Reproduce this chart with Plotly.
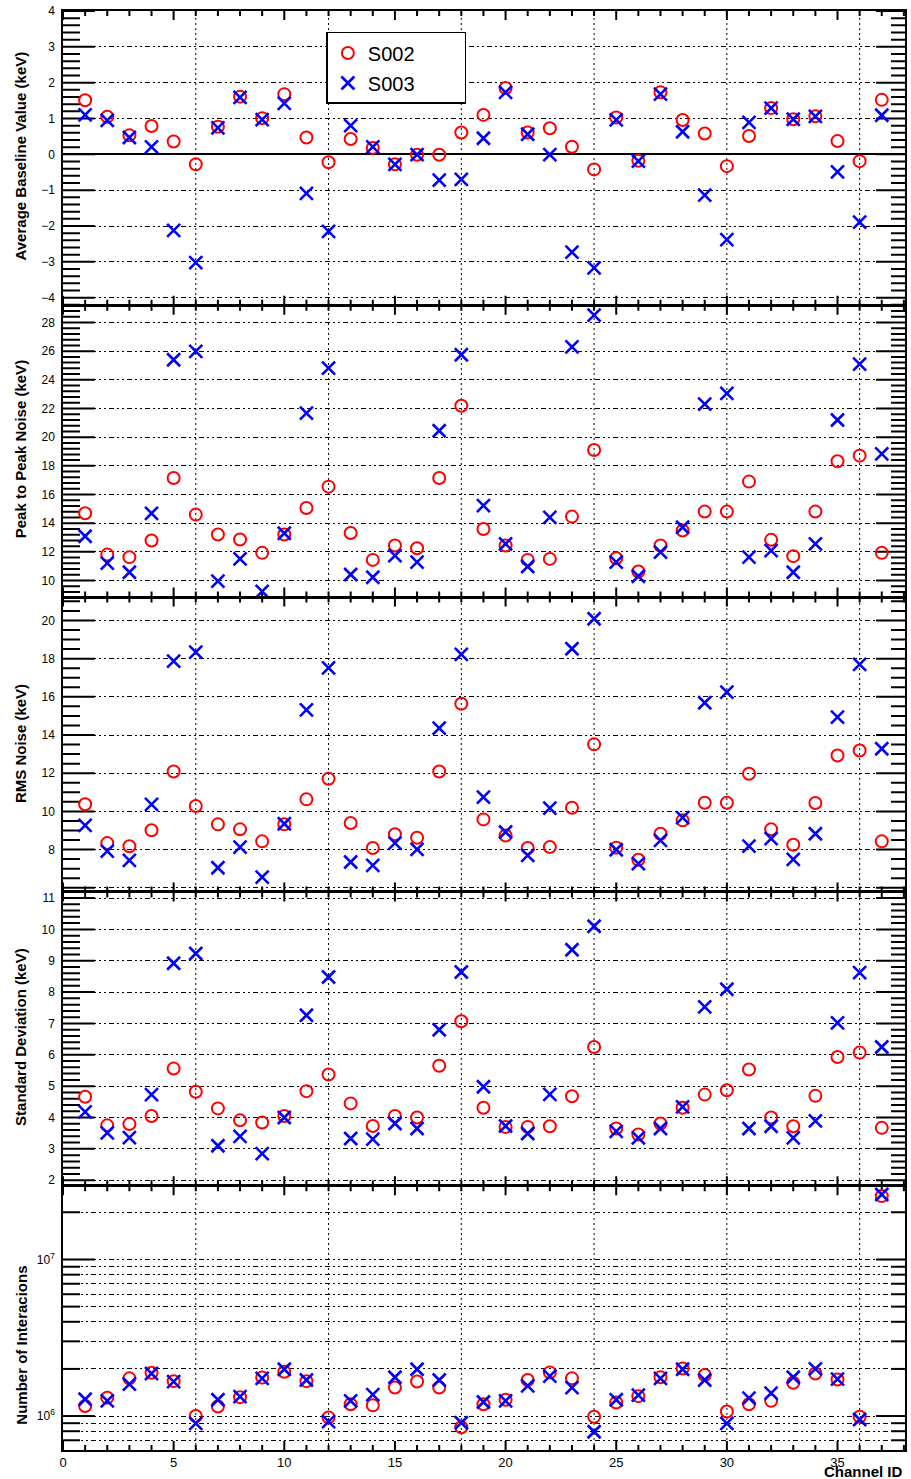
import numpy as np
import plotly.graph_objects as go

# ---------------- data ----------------
channels = list(range(1, 38))

baseline_s002 = [1.51, 1.05, 0.53, 0.79, 0.36, -0.28, 0.77, 1.61, 1.01, 1.68,
                 0.47, -0.22, 0.43, 0.18, -0.28, -0.01, -0.01, 0.61, 1.10, 1.85,
                 0.61, 0.73, 0.21, -0.42, 1.03, -0.18, 1.73, 0.96, 0.58, -0.33,
                 0.51, 1.29, 0.98, 1.06, 0.37, -0.19, 1.52]
baseline_s003 = [1.10, 0.95, 0.47, 0.21, -2.12, -3.02, 0.74, 1.59, 0.97, 1.42,
                 -1.09, -2.15, 0.80, 0.21, -0.28, -0.01, -0.72, -0.70, 0.45, 1.73,
                 0.56, -0.01, -2.73, -3.17, 0.96, -0.19, 1.68, 0.63, -1.14, -2.38,
                 0.89, 1.29, 0.98, 1.06, -0.49, -1.89, 1.09]

p2p_s002 = [14.69, 11.81, 11.63, 12.79, 17.15, 14.60, 13.21, 12.86, 11.93, 13.21,
            15.06, 16.55, 13.32, 11.44, 12.44, 12.25, 17.15, 22.19, 13.60, 12.44,
            11.44, 11.51, 14.46, 19.11, 11.56, 10.63, 12.44, 13.49, 14.81, 14.81,
            16.90, 12.84, 11.70, 14.81, 18.32, 18.71, 11.93]
p2p_s003 = [13.09, 11.21, 10.58, 14.69, 25.40, 25.98, 9.96, 11.51, 9.24, 13.30,
            21.68, 24.82, 10.42, 10.23, 11.74, 11.28, 20.45, 25.75, 15.23, 12.56,
            10.98, 14.41, 26.30, 28.51, 11.28, 10.30, 11.98, 13.72, 22.31, 23.05,
            11.63, 12.09, 10.58, 12.56, 21.20, 25.10, 18.83]

rms_s002 = [10.37, 8.34, 8.17, 9.01, 12.09, 10.28, 9.32, 9.06, 8.43, 9.32,
            10.63, 11.71, 9.39, 8.08, 8.80, 8.62, 12.09, 15.64, 9.58, 8.74,
            8.08, 8.13, 10.19, 13.51, 8.10, 7.47, 8.83, 9.53, 10.45, 10.45,
            11.97, 9.06, 8.25, 10.44, 12.93, 13.19, 8.43]
rms_s003 = [9.27, 7.92, 7.43, 10.37, 17.87, 18.34, 7.05, 8.13, 6.56, 9.35,
            15.32, 17.52, 7.35, 7.17, 8.34, 8.01, 14.36, 18.22, 10.75, 8.92,
            7.70, 10.17, 18.52, 20.09, 7.99, 7.26, 8.48, 9.67, 15.69, 16.25,
            8.18, 8.57, 7.49, 8.83, 14.94, 17.70, 13.28]

std_s002 = [4.66, 3.75, 3.79, 4.05, 5.56, 4.82, 4.29, 3.91, 3.84, 4.05,
            4.84, 5.37, 4.45, 3.73, 4.05, 4.00, 5.65, 7.07, 4.31, 3.70,
            3.70, 3.72, 4.68, 6.25, 3.65, 3.46, 3.81, 4.31, 4.73, 4.87,
            5.53, 4.00, 3.72, 4.69, 5.93, 6.07, 3.67]
std_s003 = [4.18, 3.51, 3.36, 4.73, 8.92, 9.23, 3.10, 3.40, 2.85, 4.00,
            7.26, 8.48, 3.33, 3.31, 3.81, 3.65, 6.80, 8.64, 4.98, 3.73,
            3.49, 4.74, 9.35, 10.10, 3.56, 3.35, 3.65, 4.34, 7.53, 8.09,
            3.65, 3.72, 3.35, 3.89, 7.02, 8.62, 6.25]

inter_s002 = [1.16e6, 1.31e6, 1.74e6, 1.89e6, 1.67e6, 1.00e6, 1.15e6, 1.32e6, 1.76e6, 1.92e6,
              1.67e6, 0.98e6, 1.19e6, 1.17e6, 1.52e6, 1.66e6, 1.52e6, 0.847e6, 1.19e6, 1.27e6,
              1.70e6, 1.90e6, 1.74e6, 0.99e6, 1.22e6, 1.34e6, 1.77e6, 2.01e6, 1.83e6, 1.07e6,
              1.19e6, 1.25e6, 1.63e6, 1.87e6, 1.71e6, 0.99e6, 2.54e7]
inter_s003 = [1.28e6, 1.25e6, 1.60e6, 1.87e6, 1.66e6, 0.898e6, 1.27e6, 1.33e6, 1.74e6, 1.99e6,
              1.70e6, 0.92e6, 1.25e6, 1.37e6, 1.77e6, 1.99e6, 1.70e6, 0.906e6, 1.23e6, 1.25e6,
              1.56e6, 1.80e6, 1.52e6, 0.794e6, 1.27e6, 1.36e6, 1.74e6, 1.99e6, 1.70e6, 0.898e6,
              1.30e6, 1.40e6, 1.77e6, 2.00e6, 1.72e6, 0.95e6, 2.60e7]

series_names = ["S002", "S003"]
y_titles = ["Average Baseline Value (keV)", "Peak to Peak Noise (keV)",
            "RMS Noise (keV)", "Standard Deviation (keV)", "Number of Interacions"]
x_title = "Channel ID"

x_label_vals = [0, 5, 10, 15, 20, 25, 30, 35]
rms_tick_vals = [6, 8, 10, 12, 14, 16, 18, 20]
rms_tick_text = ["", "8", "10", "12", "14", "16", "18", "20"]
log_major_vals = [1e6, 1e7]
log_major_text = ["10<sup>6</sup>", "10<sup>7</sup>"]
log_minor_vals = [7e5, 8e5, 9e5, 2e6, 3e6, 4e6, 5e6, 6e6, 7e6, 8e6, 9e6, 2e7]
module_lines = [6, 12, 18, 24, 30, 36]

# ---------------- styling ----------------
RED = "#ff0000"
BLUE = "#0000ff"
FONT = "Liberation Sans"
GRID_DASH = "2px,3px,2px,3px,5px,3px"
X_RANGE = [0, 38.05]
PLOT_W = 911 - 63 - 4
PLOT_H = 1479 - 10 - 29

panels = [
    (baseline_s002, baseline_s003),
    (p2p_s002, p2p_s003),
    (rms_s002, rms_s003),
    (std_s002, std_s003),
    (inter_s002, inter_s003),
]

domains = [
    [0.7958, 1.0],
    [0.5931, 0.7951],
    [0.3882, 0.5924],
    [0.1840, 0.3875],
    [0.0, 0.1833],
]

y_ranges = [[-4.2, 4.0], [8.885, 29.16], [5.81, 21.2], [1.84, 11.18], [5.783, 7.468]]
major_steps = [1, 2, 2, 1, None]
minor_steps = [0.2, 0.4, 0.5, 0.2, None]


def positions(rng, step):
    k0 = int(np.ceil(rng[0] / step - 1e-9))
    k1 = int(np.floor(rng[1] / step + 1e-9))
    return [round(k * step, 6) for k in range(k0, k1 + 1)]


def tick_path(i):
    """ROOT-style inside tick marks for panel i, as a single line path in axis units."""
    n = i + 1
    is_log = (n == 5)
    lo, hi = y_ranges[i]
    d0, d1 = domains[i]
    yu = (hi - lo) / ((d1 - d0) * PLOT_H)
    xu = (X_RANGE[1] - X_RANGE[0]) / PLOT_W
    conv = (lambda t: 10 ** t) if is_log else (lambda t: t)
    if is_log:
        majors = [np.log10(v) for v in log_major_vals]
        minors = [np.log10(v) for v in log_minor_vals]
    else:
        majors = positions(y_ranges[i], major_steps[i])
        minors = [v for v in positions(y_ranges[i], minor_steps[i])
                  if not any(abs(v - m) < 1e-6 for m in majors)]
    xs, ys = [], []
    for vals, ln_l, ln_r in ((majors, 32, 29), (minors, 17, 14)):
        for v in vals:
            if v < lo - 1e-9 or v > hi + 1e-9:
                continue
            xs += [X_RANGE[0], X_RANGE[0] + ln_l * xu, None]
            ys += [conv(v), conv(v), None]
            xs += [X_RANGE[1] - ln_r * xu, X_RANGE[1], None]
            ys += [conv(v), conv(v), None]
    for xv in range(0, 39):
        ln = 9 if xv % 5 == 0 else 5
        xs += [xv, xv, None, xv, xv, None]
        ys += [conv(lo), conv(lo + ln * yu), None, conv(hi - ln * yu), conv(hi), None]
    return xs, ys


fig = go.Figure()

for i, (a, b) in enumerate(panels):
    n = i + 1
    xa = "x" if n == 1 else f"x{n}"
    ya = "y" if n == 1 else f"y{n}"
    tx, ty = tick_path(i)
    fig.add_trace(go.Scatter(
        x=tx, y=ty, mode="lines", line=dict(color="black", width=2),
        showlegend=False, hoverinfo="skip", xaxis=xa, yaxis=ya, connectgaps=False))
    fig.add_trace(go.Scatter(
        x=channels, y=a, mode="markers", name=series_names[0] + "\u00a0" * 8,
        legendgroup="s002", showlegend=(n == 1),
        marker=dict(symbol="circle-open", size=12, color=RED, line=dict(width=2, color=RED)),
        xaxis=xa, yaxis=ya, cliponaxis=False))
    fig.add_trace(go.Scatter(
        x=channels, y=b, mode="markers", name=series_names[1] + "\u00a0" * 8,
        legendgroup="s003", showlegend=(n == 1),
        marker=dict(symbol="x-thin-open", size=13, color=BLUE, line=dict(width=2.6, color=BLUE)),
        xaxis=xa, yaxis=ya, cliponaxis=False))

common_x = dict(
    range=X_RANGE, showline=True, linecolor="black", linewidth=1.5, mirror=True,
    ticks="", tickmode="array", tickvals=x_label_vals,
    showgrid=False, zeroline=False,
    tickfont=dict(family=FONT, size=13, color="black"),
)

common_y = dict(
    showline=True, linecolor="black", linewidth=1.5, mirror=True, ticks="",
    showgrid=True, gridcolor="black", gridwidth=1, griddash=GRID_DASH,
    tickfont=dict(family=FONT, size=12, color="black"),
    zeroline=False, ticklabelstandoff=4,
)

layout = dict(
    width=911, height=1479,
    margin=dict(l=63, r=4, t=10, b=29),
    paper_bgcolor="white", plot_bgcolor="white",
    showlegend=True,
    legend=dict(
        x=(327 - 63) / PLOT_W, y=(1450 - 31) / PLOT_H, xanchor="left", yanchor="top",
        bgcolor="white", bordercolor="black", borderwidth=1.5,
        font=dict(family=FONT, size=20, color="black"),
        tracegroupgap=1,
    ),
)

for i in range(5):
    n = i + 1
    xkey = "xaxis" if n == 1 else f"xaxis{n}"
    ykey = "yaxis" if n == 1 else f"yaxis{n}"
    main_y = "y" if n == 1 else f"y{n}"
    xname = "x" if n == 1 else f"x{n}"

    xa = dict(common_x)
    xa["anchor"] = main_y
    xa["domain"] = [0, 1]
    if n != 1:
        xa["matches"] = "x"
    xa["showticklabels"] = (n == 5)
    layout[xkey] = xa

    ya = dict(common_y)
    ya["anchor"] = xname
    ya["domain"] = domains[i]
    ya["range"] = y_ranges[i]
    if n == 1:
        ya.update(dtick=1, tick0=0, zeroline=True, zerolinecolor="black", zerolinewidth=1.5)
    elif n == 2:
        ya.update(dtick=2, tick0=0)
    elif n == 3:
        ya.update(tickmode="array", tickvals=rms_tick_vals, ticktext=rms_tick_text)
    elif n == 4:
        ya.update(dtick=1, tick0=0)
    else:
        ya.update(type="log", tickmode="array", tickvals=log_major_vals, ticktext=log_major_text,
                  minor=dict(tickmode="array", tickvals=log_minor_vals, ticks="",
                             showgrid=True, gridcolor="black", gridwidth=1, griddash=GRID_DASH))
    layout[ykey] = ya

fig.update_layout(**layout)

module_shapes = [dict(type="line", xref="x", yref="paper", x0=v, x1=v, y0=0, y1=1,
                      line=dict(color="black", width=1, dash="2px,3px"), layer="below")
                 for v in module_lines]
fig.update_layout(shapes=module_shapes)

title_y = [(1450 - 155) / PLOT_H, (1450 - 449) / PLOT_H, (1450 - 743) / PLOT_H,
           (1450 - 1037) / PLOT_H, (1450 - 1345) / PLOT_H]
for t, yy in zip(y_titles, title_y):
    fig.add_annotation(text=f"<b>{t}</b>", xref="paper", yref="paper",
                       x=(20.5 - 63) / PLOT_W, y=yy, xanchor="center", yanchor="middle",
                       textangle=-90, showarrow=False,
                       font=dict(family=FONT, size=15, color="black"))

fig.add_annotation(text=f"<b>{x_title}</b>", xref="paper", yref="paper",
                   x=1.0, y=(1450 - 1472) / PLOT_H, xanchor="right", yanchor="middle",
                   showarrow=False, font=dict(family=FONT, size=15, color="black"))

fig.write_html("out.html")
